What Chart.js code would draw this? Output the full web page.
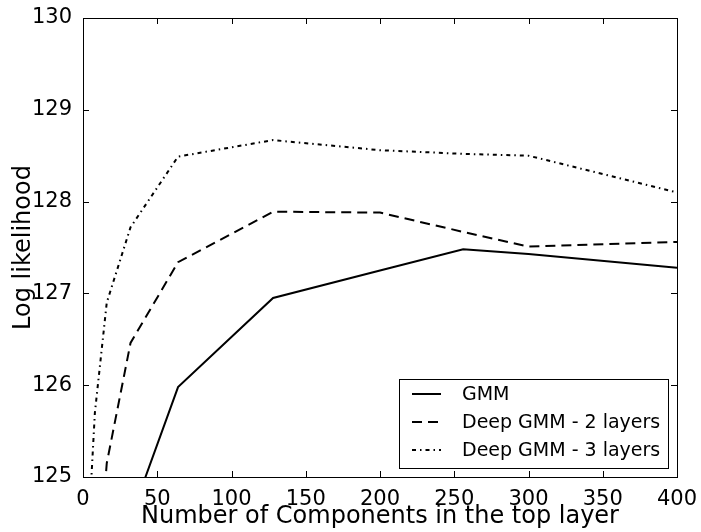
<!DOCTYPE html>
<html lang="en">
<head>
  <meta charset="UTF-8">
  <title>Log likelihood vs components</title>
  <script src="https://cdn.jsdelivr.net/npm/chart.js@4.4.0/dist/chart.umd.min.js"></script>
  <style>
    html, body { margin: 0; padding: 0; background: #ffffff; }
    #wrap { width: 701px; height: 532px; }
  </style>
</head>
<body>
  <div id="wrap"><canvas id="llChart" width="701" height="532"></canvas></div>

  <script>
    // Data
    const components = [4, 8, 16, 32, 64, 128, 200, 256, 300, 400];
    const gmm   = [null, null, null, 124.55, 125.98, 126.95, 127.25, 127.48, 127.43, 127.28];
    const deep2 = [null, 123.5, 125.15, 126.46, 127.34, 127.89, 127.88, 127.67, 127.51, 127.56];
    const deep3 = [124.5, 125.7, 126.9, 127.72, 128.49, 128.67, 128.56, 128.52, 128.5, 128.1];
    const seriesNames = ['GMM', 'Deep GMM - 2 layers', 'Deep GMM - 3 layers'];
    const xTicks = [0, 50, 100, 150, 200, 250, 300, 350, 400];
    const yTicks = [125, 126, 127, 128, 129, 130];

    const dashes = [[], [10, 6], [4, 4, 1.5, 4]];
    const font = 'DejaVu Sans';

    const toPoints = vals => components.map((x, i) => ({ x, y: vals[i] }));

    const datasets = [gmm, deep2, deep3].map((vals, i) => ({
      label: seriesNames[i],
      data: toPoints(vals),
      borderColor: '#000000',
      borderWidth: 2,
      borderDash: dashes[i],
      pointRadius: 0,
      tension: 0,
      fill: false,
      clip: 0
    }));

    // inward ticks on all four sides, frame and the legend box
    const framePlugin = {
      id: 'frame',
      afterDraw(chart) {
        const { ctx, chartArea: a, scales } = chart;
        const len = 6;
        ctx.save();
        ctx.strokeStyle = '#000';
        ctx.lineWidth = 1;
        ctx.setLineDash([]);
        ctx.beginPath();
        xTicks.forEach(v => {
          const px = Math.round(scales.x.getPixelForValue(v)) + 0.5;
          ctx.moveTo(px, a.bottom); ctx.lineTo(px, a.bottom - len);
          ctx.moveTo(px, a.top); ctx.lineTo(px, a.top + len);
        });
        yTicks.forEach(v => {
          const py = Math.round(scales.y.getPixelForValue(v)) + 0.5;
          ctx.moveTo(a.left, py); ctx.lineTo(a.left + len, py);
          ctx.moveTo(a.right, py); ctx.lineTo(a.right - len, py);
        });
        ctx.stroke();
        ctx.strokeRect(Math.round(a.left) + 0.5, Math.round(a.top) + 0.5,
                       Math.round(a.right - a.left), Math.round(a.bottom - a.top));

        // legend (bottom right, inside the axes)
        const box = { x: 399.5, y: 379.5, w: 269, h: 89 };
        ctx.fillStyle = '#fff';
        ctx.fillRect(box.x, box.y, box.w, box.h);
        ctx.strokeRect(box.x, box.y, box.w, box.h);
        ctx.font = '19px "' + font + '"';
        ctx.textBaseline = 'middle';
        chart.data.datasets.forEach((ds, i) => {
          const y = 394 + i * 28;
          ctx.strokeStyle = '#000';
          ctx.lineWidth = 2;
          ctx.setLineDash(ds.borderDash);
          ctx.beginPath();
          ctx.moveTo(412, y);
          ctx.lineTo(441, y);
          ctx.stroke();
          ctx.setLineDash([]);
          ctx.fillStyle = '#000';
          ctx.fillText(ds.label, 462, y + 1);
        });
        ctx.restore();
      }
    };

    new Chart(document.getElementById('llChart'), {
      type: 'line',
      data: { datasets },
      options: {
        responsive: false,
        animation: false,
        layout: { padding: { top: 18, right: 24, left: 0, bottom: 0 } },
        plugins: {
          legend: { display: false },
          tooltip: { enabled: false }
        },
        scales: {
          x: {
            type: 'linear',
            min: 0,
            max: 400,
            afterFit: s => { s.height = 55; },
            afterBuildTicks: s => { s.ticks = xTicks.map(v => ({ value: v })); },
            grid: { display: false },
            border: { display: false },
            ticks: {
              color: '#000',
              padding: 2,
              maxRotation: 0,
              font: { family: font, size: 21 }
            },
            title: {
              display: true,
              text: 'Number of Components in the top layer',
              color: '#000',
              font: { family: font, size: 24 },
              padding: { top: 0, bottom: 1 }
            }
          },
          y: {
            min: 125,
            max: 130,
            afterFit: s => { s.width = 83; },
            afterBuildTicks: s => { s.ticks = yTicks.map(v => ({ value: v })); },
            grid: { display: false },
            border: { display: false },
            ticks: {
              color: '#000',
              padding: 3,
              font: { family: font, size: 21 }
            },
            title: {
              display: true,
              text: 'Log likelihood',
              color: '#000',
              font: { family: font, size: 24 },
              padding: { top: 9, bottom: 0 }
            }
          }
        }
      },
      plugins: [framePlugin]
    });
  </script>
</body>
</html>
